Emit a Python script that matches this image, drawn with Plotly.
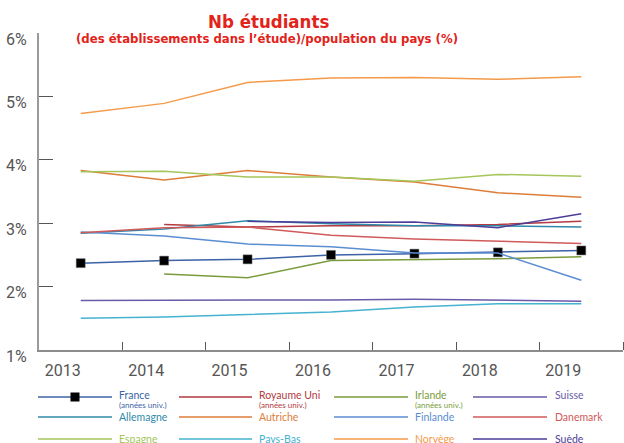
import plotly.graph_objects as go

years = [2013, 2014, 2015, 2016, 2017, 2018, 2019]
year_labels = ["2013", "2014", "2015", "2016", "2017", "2018", "2019"]
y_ticks = [1, 2, 3, 4, 5, 6]

france = [2.37, 2.41, 2.43, 2.50, 2.52, 2.54, 2.57]
royaume_uni = [None, 2.98, 2.94, 2.96, 2.96, 2.98, 3.03]
irlande = [None, 2.20, 2.14, 2.41, 2.42, 2.44, 2.47]
suisse = [1.78, 1.78, 1.78, 1.79, 1.80, 1.78, 1.77]
allemagne = [2.84, 2.91, 3.04, 2.99, 2.96, 2.96, 2.94]
autriche = [3.83, 3.68, 3.83, 3.73, 3.65, 3.48, 3.41]
finlande = [2.86, 2.80, 2.67, 2.63, 2.53, 2.53, 2.10]
danemark = [2.85, 2.93, 2.94, 2.81, 2.75, 2.72, 2.68]
espagne = [3.81, 3.82, 3.73, 3.73, 3.66, 3.77, 3.74]
pays_bas = [1.50, 1.52, 1.56, 1.60, 1.68, 1.73, 1.73]
norvege = [4.73, 4.89, 5.22, 5.29, 5.30, 5.27, 5.31]
suede = [None, None, 3.03, 3.01, 3.02, 2.93, 3.15]

# (name, sub, values, color, row, col)
series = [
    ("France", "(années univ.)", france, "#3b63a6", 0, 0),
    ("Royaume Uni", "(années univ.)", royaume_uni, "#b23a40", 0, 1),
    ("Irlande", "(années univ.)", irlande, "#7a9c3c", 0, 2),
    ("Suisse", None, suisse, "#6a5aa8", 0, 3),
    ("Allemagne", None, allemagne, "#2e8aa8", 1, 0),
    ("Autriche", None, autriche, "#dd7d3a", 1, 1),
    ("Finlande", None, finlande, "#5b8dd2", 1, 2),
    ("Danemark", None, danemark, "#d05a5a", 1, 3),
    ("Espagne", None, espagne, "#a4c65a", 2, 0),
    ("Pays-Bas", None, pays_bas, "#45b2d0", 2, 1),
    ("Norvège", None, norvege, "#f59a4a", 2, 2),
    ("Suède", None, suede, "#4b3d98", 2, 3),
]

fig = go.Figure()
for name, sub, vals, color, r, c in series:
    if name == "France":
        fig.add_trace(go.Scatter(x=years, y=vals, mode="lines+markers", name=name,
                                 line=dict(color=color, width=1.5),
                                 marker=dict(symbol="square", size=9, color="black",
                                             line=dict(color="#777", width=0.5)),
                                 cliponaxis=False))
    else:
        fig.add_trace(go.Scatter(x=years, y=vals, mode="lines", name=name,
                                 line=dict(color=color, width=1.5)))

# plot area in pixels
L, R, T, B = 39, 623, 33, 350
def px(x):
    return (x - L) / (R - L)
def py(y):
    return (B - y) / (B - T)

col_line = [(38, 112), (179, 252), (334, 408), (473, 547)]
col_text = [117, 257, 413, 553]
row_line = [397, 417, 439]
row_text = [395, 417, 439]

shapes = []
annotations = []
for name, sub, vals, color, r, c in series:
    x0, x1 = col_line[c]
    shapes.append(dict(type="line", xref="paper", yref="paper",
                       x0=px(x0), x1=px(x1), y0=py(row_line[r]), y1=py(row_line[r]),
                       line=dict(color=color, width=1.5)))
    ty = row_text[r]
    annotations.append(dict(text=name, xref="paper", yref="paper", x=px(col_text[c]),
                            y=py(ty), xanchor="left", yanchor="middle", showarrow=False,
                            font=dict(family="Lato", size=10.5, color=color)))
    if sub:
        annotations.append(dict(text=sub, xref="paper", yref="paper", x=px(col_text[c]),
                                y=py(404.5), xanchor="left", yanchor="middle", showarrow=False,
                                font=dict(family="Lato", size=8, color=color)))
    if name == "France":
        mx = 75
        shapes.append(dict(type="rect", xref="paper", yref="paper",
                           x0=px(mx - 4.5), x1=px(mx + 4.5),
                           y0=py(row_line[r] + 4.5), y1=py(row_line[r] - 4.5),
                           fillcolor="black", line=dict(width=0)))

title_font = "Liberation Sans Narrow, DejaVu Sans Condensed, Roboto Condensed, Roboto"
annotations.append(dict(text="<b>Nb étudiants</b>", xref="paper", yref="paper",
                        x=px(268), y=py(21), xanchor="center", yanchor="middle",
                        showarrow=False,
                        font=dict(family=title_font, size=18.5, color="#e2231a")))
annotations.append(dict(text="<b>(des établissements dans l’étude)/population du pays (%)</b>",
                        xref="paper", yref="paper",
                        x=px(267), y=py(38.5), xanchor="center", yanchor="middle",
                        showarrow=False,
                        font=dict(family=title_font, size=13, color="#e2231a")))

fig.update_layout(
    width=624, height=443,
    margin=dict(l=L, r=624 - R, t=T, b=443 - B, autoexpand=False),
    paper_bgcolor="white", plot_bgcolor="white",
    showlegend=False,
    shapes=shapes, annotations=annotations,
    xaxis=dict(range=[2012.5, 2019.5], tickvals=years, ticktext=year_labels,
               ticks="", showgrid=False, zeroline=False,
               showline=True, linecolor="#8c8c8c", linewidth=2,
               tickfont=dict(family="Roboto", size=16, color="#555"),
               ticklabelshift=-18, ticklabelstandoff=5,
               minor=dict(tickvals=[y + 0.5 for y in years], ticks="inside",
                          ticklen=8, tickcolor="#555", tickwidth=1.2, showgrid=False)),
    yaxis=dict(range=[1, 6], tickvals=y_ticks, ticktext=[f"{v}%" for v in y_ticks],
               ticks="inside", ticklen=14, tickcolor="#555", tickwidth=1.2,
               showgrid=False, zeroline=False,
               showline=True, linecolor="#9a9a9a", linewidth=2,
               tickfont=dict(family="Roboto", size=16, color="#555"),
               ticklabelshift=6, ticklabelstandoff=7),
)

fig.write_html("out.html", config={"displayModeBar": False},
               post_script="document.body.style.margin='0';")
